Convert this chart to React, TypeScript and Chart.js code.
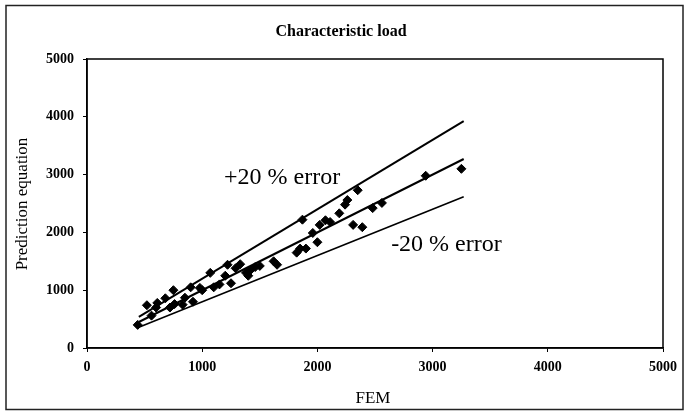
import React, { useEffect, useRef } from "react";
import { Chart, registerables } from "chart.js";

Chart.register(...registerables);

// FEM values (x) and prediction-equation values (y)
const femValues = [
  440, 520, 560, 600, 610, 680, 720, 750, 760, 830, 850, 900, 920, 980, 1000,
  1070, 1100, 1150, 1200, 1220, 1250, 1290, 1330, 1380, 1400, 1420, 1460, 1500,
  1620, 1650, 1820, 1850, 1870, 1900, 1960, 2000, 2020, 2070, 2110, 2190, 2240,
  2260, 2310, 2350, 2390, 2480, 2560, 2940, 3250,
];
const predictionValues = [
  400, 740, 560, 700, 780, 860, 700, 1000, 760, 750, 870, 1050, 800, 1040, 1000,
  1300, 1050, 1100, 1250, 1440, 1120, 1380, 1450, 1300, 1250, 1350, 1400, 1420,
  1500, 1440, 1650, 1720, 2220, 1720, 1990, 1830, 2130, 2210, 2180, 2330, 2480,
  2560, 2130, 2730, 2090, 2420, 2510, 2980, 3100,
];

// reference lines (end points)
const lineX = [450, 3270];
const upperLineY = [540, 3924];
const centerLineY = [450, 3270];
const lowerLineY = [360, 2616];

const axisTicks = [0, 1000, 2000, 3000, 4000, 5000];

const titleText = "Characteristic load";
const xTitle = "FEM";
const yTitle = "Prediction equation";
const upperLabel = "+20 % error";
const lowerLabel = "-20 % error";

const SERIF = "'Liberation Serif', 'Times New Roman', serif";

export default function App() {
  const ref = useRef<HTMLCanvasElement | null>(null);

  useEffect(() => {
    if (!ref.current) return;
    const pts = femValues.map((x, i) => ({ x, y: predictionValues[i] }));
    const mk = (ys: number[]) => lineX.map((x, i) => ({ x, y: ys[i] }));

    const decor = {
      id: "decor",
      afterDraw(chart: any) {
        const ctx = chart.ctx as CanvasRenderingContext2D;
        const a = chart.chartArea;
        const xs = chart.scales.x;
        const ys = chart.scales.y;
        ctx.save();
        // plot frame
        ctx.strokeStyle = "#000";
        ctx.lineWidth = 1.5;
        ctx.strokeRect(a.left, a.top, a.right - a.left, a.bottom - a.top);
        // outer border
        ctx.strokeStyle = "#222";
        ctx.lineWidth = 1.5;
        ctx.strokeRect(6, 5.5, 677, 404);
        // title
        ctx.fillStyle = "#000";
        ctx.textAlign = "center";
        ctx.textBaseline = "middle";
        ctx.font = `bold 16px ${SERIF}`;
        ctx.fillText(titleText, 341, 32);
        // x title
        ctx.font = `17px ${SERIF}`;
        ctx.fillText(xTitle, 373, 399);
        // y title
        ctx.save();
        ctx.translate(23, 204);
        ctx.rotate(-Math.PI / 2);
        ctx.fillText(yTitle, 0, 0);
        ctx.restore();
        // annotations
        ctx.font = `24px ${SERIF}`;
        ctx.textAlign = "left";
        ctx.fillText(upperLabel, xs.getPixelForValue(1190), ys.getPixelForValue(2950));
        ctx.fillText(lowerLabel, xs.getPixelForValue(2640), ys.getPixelForValue(1790));
        ctx.restore();
      },
    };

    const tickFont = { family: SERIF, size: 14, weight: "bold" as const };
    const fmt = (v: any) => String(v);

    const chart = new Chart(ref.current, {
      type: "scatter",
      data: {
        datasets: [
          {
            data: pts,
            pointStyle: "rectRot",
            pointRadius: 4.5,
            pointBackgroundColor: "#000",
            pointBorderColor: "#000",
            pointBorderWidth: 1,
            showLine: false,
          },
          {
            data: mk(upperLineY),
            showLine: true,
            borderColor: "#000",
            borderWidth: 2,
            pointRadius: 0,
          },
          {
            data: mk(centerLineY),
            showLine: true,
            borderColor: "#000",
            borderWidth: 2,
            pointRadius: 0,
          },
          {
            data: mk(lowerLineY),
            showLine: true,
            borderColor: "#000",
            borderWidth: 1.6,
            pointRadius: 0,
          },
        ],
      },
      options: {
        responsive: false,
        animation: false,
        layout: { padding: { top: 59, right: 26, left: 0, bottom: 0 } },
        plugins: {
          legend: { display: false },
          tooltip: { enabled: false },
          title: { display: false },
        },
        scales: {
          x: {
            type: "linear",
            min: 0,
            max: 5000,
            afterFit: (s: any) => {
              s.height = 64;
            },
            afterBuildTicks: (s: any) => {
              s.ticks = axisTicks.map((v) => ({ value: v }));
            },
            grid: {
              display: true,
              drawOnChartArea: false,
              drawTicks: true,
              tickLength: 4,
              color: "#000",
            },
            border: { display: true, color: "#000", width: 1.5 },
            ticks: { color: "#000", font: tickFont, padding: 7, maxRotation: 0, callback: fmt },
          },
          y: {
            type: "linear",
            min: 0,
            max: 5000,
            afterFit: (s: any) => {
              s.width = 87;
            },
            afterBuildTicks: (s: any) => {
              s.ticks = axisTicks.map((v) => ({ value: v }));
            },
            grid: {
              display: true,
              drawOnChartArea: false,
              drawTicks: true,
              tickLength: 4,
              color: "#000",
            },
            border: { display: true, color: "#000", width: 1.5 },
            ticks: { color: "#000", font: tickFont, padding: 9, callback: fmt },
          },
        },
      },
      plugins: [decor],
    });
    return () => chart.destroy();
  }, []);

  return (
    <canvas
      ref={ref}
      width={689}
      height={412}
      style={{ position: "fixed", left: 0, top: 0, background: "#fff" }}
    />
  );
}
